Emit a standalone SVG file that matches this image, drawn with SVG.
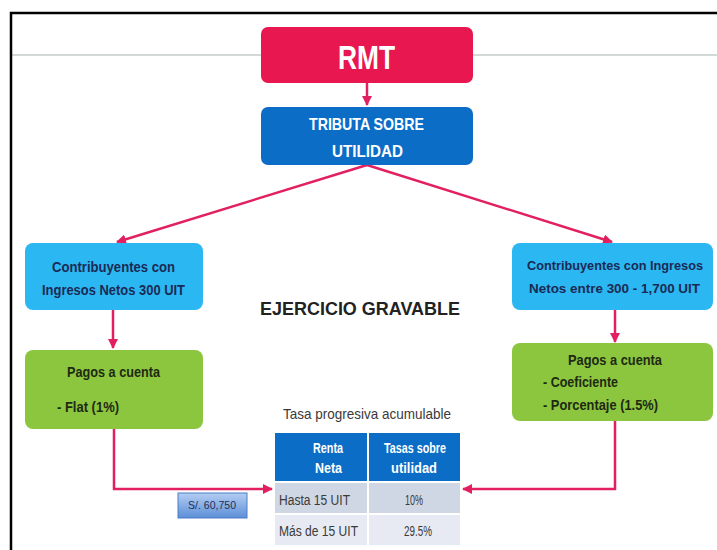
<svg xmlns="http://www.w3.org/2000/svg" width="717" height="550" viewBox="0 0 717 550">
<style>
.n{font-family:"Liberation Sans",Arial,sans-serif;}
.w{fill:#ffffff;font-weight:bold;}
.d{fill:#1b2a55;font-weight:bold;}
.g{fill:#1e2a12;font-weight:bold;}
.c{stroke:#e3205f;stroke-width:2.5;fill:none;}
.t{fill:#3a3a3a;}
</style>
<defs>
<marker id="ah" viewBox="0 0 10 10" refX="9" refY="5" markerWidth="4" markerHeight="4" orient="auto-start-reverse" markerUnits="strokeWidth">
<path d="M0,0 L10,5 L0,10 Z" fill="#e3205f"/>
</marker>
<linearGradient id="sg" x1="0" y1="0" x2="0" y2="1">
<stop offset="0" stop-color="#b3cdf2"/>
<stop offset="1" stop-color="#5c8fd8"/>
</linearGradient>
</defs>
<rect x="0" y="0" width="717" height="550" fill="#ffffff"/>
<g id="frame">
<line x1="11" y1="55" x2="717" y2="55" stroke="#c5cdcc" stroke-width="1.5"/>
<path d="M11,550 L11,13 L717,13" stroke="#000" stroke-width="2.5" fill="none"/>
</g>
<g id="connectors">
<line class="c" x1="367" y1="83" x2="367" y2="105" marker-end="url(#ah)"/>
<line class="c" x1="367" y1="165" x2="117" y2="242" marker-end="url(#ah)"/>
<line class="c" x1="367" y1="165" x2="612" y2="242" marker-end="url(#ah)"/>
<line class="c" x1="113" y1="310" x2="113" y2="348" marker-end="url(#ah)"/>
<line class="c" x1="615" y1="310" x2="615" y2="342" marker-end="url(#ah)"/>
<polyline class="c" points="114,429 114,489 272,489" marker-end="url(#ah)"/>
<polyline class="c" points="615,421 615,489 463,489" marker-end="url(#ah)"/>
</g>
<g id="rmt">
<rect x="261" y="27" width="212" height="56" rx="7" fill="#e8174f"/>
<text class="n w" x="338" y="69" font-size="33" textLength="57" lengthAdjust="spacingAndGlyphs">RMT</text>
</g>
<g id="tributa">
<rect x="261" y="107" width="212" height="58" rx="7" fill="#0b6dc6"/>
<text class="n w" x="309" y="130" font-size="17" textLength="115" lengthAdjust="spacingAndGlyphs">TRIBUTA SOBRE</text>
<text class="n w" x="332" y="157" font-size="17" textLength="71" lengthAdjust="spacingAndGlyphs">UTILIDAD</text>
</g>
<g id="contrib-left">
<rect x="25" y="243" width="178" height="67" rx="8" fill="#2bb7f1"/>
<text class="n d" x="52" y="272" font-size="14.5" textLength="123" lengthAdjust="spacingAndGlyphs">Contribuyentes con</text>
<text class="n d" x="42" y="295" font-size="14.5" textLength="143" lengthAdjust="spacingAndGlyphs">Ingresos Netos 300 UIT</text>
</g>
<g id="contrib-right">
<rect x="512" y="243" width="201" height="67" rx="8" fill="#2bb7f1"/>
<text class="n d" x="527" y="270" font-size="13.2" textLength="176" lengthAdjust="spacingAndGlyphs">Contribuyentes con Ingresos</text>
<text class="n d" x="529" y="293" font-size="13.2" textLength="171" lengthAdjust="spacingAndGlyphs">Netos entre 300 - 1,700 UIT</text>
</g>
<g id="ejercicio">
<text x="260" y="315" font-family="Liberation Sans, Arial, sans-serif" font-weight="bold" font-size="18" fill="#222" textLength="200" lengthAdjust="spacingAndGlyphs">EJERCICIO GRAVABLE</text>
</g>
<g id="pagos-left">
<rect x="25" y="350" width="178" height="79" rx="8" fill="#8cc63f"/>
<text class="n g" x="67" y="377" font-size="15" textLength="93" lengthAdjust="spacingAndGlyphs">Pagos a cuenta</text>
<text class="n g" x="57" y="412" font-size="15" textLength="62" lengthAdjust="spacingAndGlyphs">- Flat (1%)</text>
</g>
<g id="pagos-right">
<rect x="512" y="343" width="201" height="78" rx="8" fill="#8cc63f"/>
<text class="n g" x="568" y="365" font-size="15" textLength="94" lengthAdjust="spacingAndGlyphs">Pagos a cuenta</text>
<text class="n g" x="543" y="387" font-size="15" textLength="75" lengthAdjust="spacingAndGlyphs">- Coeficiente</text>
<text class="n g" x="543" y="410" font-size="15" textLength="115" lengthAdjust="spacingAndGlyphs">- Porcentaje (1.5%)</text>
</g>
<g id="monto">
<rect x="178" y="493" width="69" height="25" fill="url(#sg)" stroke="#4d7cc7" stroke-width="1"/>
<text class="n" x="188" y="509" font-size="11" fill="#1f2f55" textLength="48" lengthAdjust="spacingAndGlyphs">S/. 60,750</text>
</g>
<g id="tabla">
<text class="n t" x="283" y="419" font-size="15" textLength="168" lengthAdjust="spacingAndGlyphs">Tasa progresiva acumulable</text>
<rect x="275" y="433" width="92" height="48" fill="#0b6dc6"/>
<rect x="369" y="433" width="91" height="48" fill="#0b6dc6"/>
<rect x="275" y="483" width="92" height="30" fill="#cfd6e4"/>
<rect x="369" y="483" width="91" height="30" fill="#cfd6e4"/>
<rect x="275" y="515" width="92" height="30" fill="#e7eaf2"/>
<rect x="369" y="515" width="91" height="30" fill="#e7eaf2"/>
<text class="n w" x="313" y="453" font-size="14" textLength="30" lengthAdjust="spacingAndGlyphs">Renta</text>
<text class="n w" x="315" y="473" font-size="14" textLength="27" lengthAdjust="spacingAndGlyphs">Neta</text>
<text class="n w" x="384" y="453" font-size="14" textLength="62" lengthAdjust="spacingAndGlyphs">Tasas sobre</text>
<text class="n w" x="391" y="473" font-size="14" textLength="46" lengthAdjust="spacingAndGlyphs">utilidad</text>
<text class="n t" x="279" y="505" font-size="14" textLength="71" lengthAdjust="spacingAndGlyphs">Hasta 15 UIT</text>
<text class="n t" x="405" y="505" font-size="14" textLength="18" lengthAdjust="spacingAndGlyphs">10%</text>
<text class="n t" x="279" y="536" font-size="14" textLength="79" lengthAdjust="spacingAndGlyphs">Más de 15 UIT</text>
<text class="n t" x="404" y="536" font-size="14" textLength="28" lengthAdjust="spacingAndGlyphs">29.5%</text>
</g>
</svg>
